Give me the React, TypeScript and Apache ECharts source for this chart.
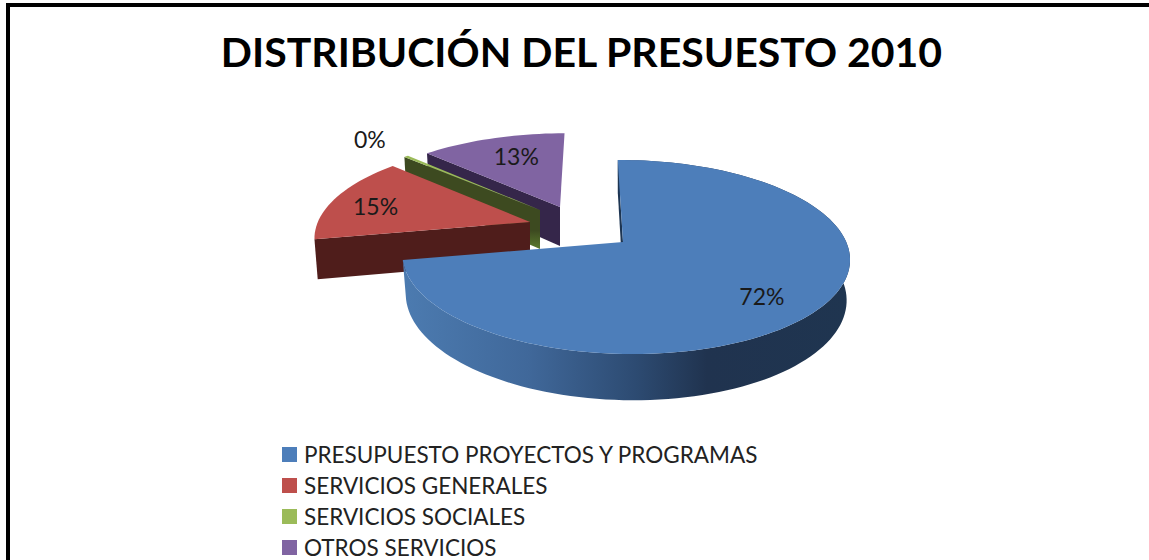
import React, { useEffect, useRef } from "react";
import * as echarts from "echarts";

const titleText = "DISTRIBUCIÓN DEL PRESUESTO 2010";
const categories = [
  "PRESUPUESTO PROYECTOS Y PROGRAMAS",
  "SERVICIOS GENERALES",
  "SERVICIOS SOCIALES",
  "OTROS SERVICIOS",
];
const values = [72, 15, 0.4, 12.6];

const topColors = ["#4D7EBA", "#BE4F4C", "#9BBB59", "#8064A2"];
const wallColors = ["#1D3552", "#4F1D1B", "#3D4A20", "#35264A"];
const apexes = [[623, 242], [530, 222], [540, 210], [560, 207]];
const scales = [1, 0.96, 0.91, 0.9];
const xScales = [1, 1.01, 1.03, 1.075];
const shears = [-6, 5, 0, 5.4];
const labelRadius = [0.74, 0.75, 1.25, 0.66];
const labelShift = [[-1, 6], [-7, 2], [-7, -6], [3, -4]];

const RX = 221, RY = 94.7, K = 0.155, M = -0.01, DEPTH = 39, BOTTOM_SHRINK = 0.985;
const FONT = "Lato, 'Noto Sans', sans-serif";

const total = values.reduce((a, b) => a + b, 0);
const starts: number[] = [];
values.reduce((acc, v, i) => { starts[i] = acc; return acc + v; }, 0);

function project(deg: number, r: number, i: number) {
  const t = (deg * Math.PI) / 180;
  const u = Math.sin(t) * r, v = Math.cos(t) * r;
  const w = 1 / (1 + K * v + M * u);
  const [ax, ay] = apexes[i];
  const s = scales[i];
  const dx = (RX * u + shears[i] * v) * w * s * xScales[i];
  const dy = -RY * v * w * s;
  return {
    top: [ax + dx, ay + dy],
    bottom: [ax + dx * BOTTOM_SHRINK, ay + dy + DEPTH * w],
  };
}

function renderSlice(i: number) {
  return (_params: any, api: any) => {
    const value = api.value(0);
    const a0 = (starts[i] / total) * 360;
    const a1 = a0 + (value / total) * 360;
    const steps = Math.max(2, Math.ceil((a1 - a0) / 2));
    const arc: any[] = [];
    for (let n = 0; n <= steps; n++) arc.push(project(a0 + ((a1 - a0) * n) / steps, 1, i));
    const apex = project(0, 0, i);
    const rimPoints = [...arc.map((p) => p.top), ...arc.slice().reverse().map((p) => p.bottom)];
    const wall = (p: any) => [apex.top, p.top, p.bottom, apex.bottom];
    let wallFill: any = wallColors[i];
    const rimFill = new echarts.graphic.LinearGradient(1, 0, 0, 0, [
      { offset: 0, color: "#1F3550" },
      { offset: 0.32, color: "#20334F" },
      { offset: 0.48, color: "#2D4B72" },
      { offset: 0.72, color: "#40689A" },
      { offset: 1, color: "#4C7BB0" },
    ]);
    if (i === 2) {
      wallFill = new echarts.graphic.LinearGradient(0, 0, 0, 1, [
        { offset: 0, color: "#3D4A20" },
        { offset: 0.8, color: "#3D4A20" },
        { offset: 1, color: "#5B7A2E" },
      ]);
    }
    const mid = (a0 + a1) / 2;
    const lp = project(mid, labelRadius[i], i).top;
    return {
      type: "group",
      children: [
        // Only the front slice shows its curved rim; the others' rims face away.
        ...(i === 0 ? [{ type: "polygon", shape: { points: rimPoints }, style: { fill: rimFill } }] : []),
        { type: "polygon", shape: { points: wall(arc[0]) }, style: { fill: wallFill } },
        { type: "polygon", shape: { points: [apex.top, ...arc.map((p) => p.top)] }, style: { fill: topColors[i] } },
        {
          type: "text",
          z2: 10,
          style: {
            text: `${Math.round((value / total) * 100)}%`,
            x: lp[0] + labelShift[i][0],
            y: lp[1] + labelShift[i][1],
            align: "center",
            verticalAlign: "middle",
            fill: "#1a1a1a",
            font: `23px ${FONT}`,
          },
        },
      ],
    };
  };
}

export default function App() {
  const ref = useRef<HTMLDivElement>(null);
  useEffect(() => {
    document.body.style.margin = "0";
    document.body.style.overflow = "hidden";
    const chart = echarts.init(ref.current!, null, { renderer: "svg" });
    chart.setOption({
      animation: false,
      backgroundColor: "#ffffff",
      title: {
        text: titleText,
        left: 576.5,
        top: 26,
        textAlign: "center",
        textStyle: { fontFamily: FONT, fontWeight: "bold", fontSize: 41, color: "#000000" },
      },
      legend: {
        orient: "vertical",
        left: 277,
        top: 438,
        height: 200,
        icon: "rect",
        itemWidth: 15,
        itemHeight: 15,
        itemGap: 8,
        selectedMode: false,
        data: categories,
        textStyle: { fontFamily: FONT, fontSize: 22.5, color: "#222222", lineHeight: 22, padding: [0, 0, 0, 2] },
      },
      graphic: [
        {
          type: "rect",
          z: 100,
          shape: { x: 8, y: 5, width: 1300, height: 700 },
          style: { fill: "none", stroke: "#000000", lineWidth: 4 },
        },
      ],
      series: categories.map((name, i) => ({
        type: "custom",
        name,
        coordinateSystem: "none",
        z: 5 - i,
        clip: false,
        itemStyle: { color: topColors[i] },
        data: [[values[i]]],
        renderItem: renderSlice(i),
      })),
    });
    return () => chart.dispose();
  }, []);
  return <div ref={ref} style={{ width: 1149, height: 560 }} />;
}
